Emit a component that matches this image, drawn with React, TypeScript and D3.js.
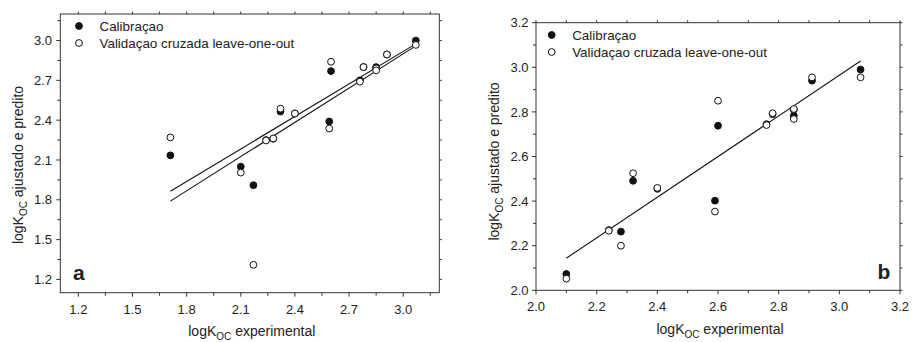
import React from "react";
import * as d3 from "d3";

// ---------- data ----------
const xA = [1.71, 2.10, 2.17, 2.24, 2.28, 2.32, 2.40, 2.59, 2.60, 2.76, 2.78, 2.85, 2.85, 2.91, 3.07];
const calA = [2.135, 2.05, 1.91, 2.25, 2.26, 2.465, 2.45, 2.39, 2.77, 2.70, 2.80, 2.80, 2.79, 2.895, 3.0];
const valA = [2.27, 2.005, 1.31, 2.247, 2.262, 2.487, 2.45, 2.337, 2.84, 2.69, 2.80, 2.79, 2.775, 2.895, 2.967];
// fitted lines (start x, end x, y at start, y at end)
const fitA1 = [1.71, 3.07, 1.865, 2.975];
const fitA2 = [1.71, 3.07, 1.79, 2.96];
const ticksA = [1.2, 1.5, 1.8, 2.1, 2.4, 2.7, 3.0];
const minorA = [1.35, 1.65, 1.95, 2.25, 2.55, 2.85, 3.15];

const xB = [2.10, 2.24, 2.28, 2.32, 2.40, 2.59, 2.60, 2.76, 2.78, 2.85, 2.85, 2.91, 3.07];
const calB = [2.073, 2.27, 2.263, 2.491, 2.455, 2.402, 2.738, 2.745, 2.79, 2.81, 2.783, 2.94, 2.99];
const valB = [2.052, 2.267, 2.2, 2.525, 2.459, 2.353, 2.85, 2.741, 2.794, 2.813, 2.768, 2.955, 2.955];
const fitB = [2.10, 3.07, 2.144, 3.028];
const ticksB = [2.0, 2.2, 2.4, 2.6, 2.8, 3.0, 3.2];
const minorB = [2.1, 2.3, 2.5, 2.7, 2.9, 3.1];

const legendLabels = ["Calibraçao", "Validaçao cruzada leave-one-out"];

const FONT = "'Liberation Sans', Arial, sans-serif";
const TXT = "#222";
const LINE = "#333";

type PanelProps = {
  x0: number; x1: number; y0: number; y1: number;
  domain: [number, number];
  ticks: number[]; minor: number[];
  xs: number[]; cal: number[]; val: number[];
  fits: number[][];
  tag: string; tagX: number; tagY: number;
  legX: number; legY: number;
  yTitleX: number; yTitleY: number; xTitleY: number;
  xLabelY: number; yLabelX: number;
};

function Panel(p: PanelProps) {
  const x = d3.scaleLinear().domain(p.domain).range([p.x0, p.x1]);
  const y = d3.scaleLinear().domain(p.domain).range([p.y1, p.y0]);
  const fmt = d3.format(".1f");
  const r = 3.4;
  const maj = 4, mn = 3, opp = 2.5;
  return (
    <g>
      {/* frame */}
      <rect x={p.x0} y={p.y0} width={p.x1 - p.x0} height={p.y1 - p.y0} fill="none" stroke={LINE} strokeWidth={1} />
      {/* bottom & top ticks */}
      {p.ticks.map((t) => (
        <g key={"xt" + t}>
          <line x1={x(t)} x2={x(t)} y1={p.y1} y2={p.y1 + maj} stroke={LINE} />
          <line x1={x(t)} x2={x(t)} y1={p.y0} y2={p.y0 - opp} stroke={LINE} />
          <text x={x(t)} y={p.xLabelY} textAnchor="middle" fontSize={13} fill={TXT} fontFamily={FONT}>{fmt(t)}</text>
        </g>
      ))}
      {p.minor.map((t) => (
        <g key={"xm" + t}>
          <line x1={x(t)} x2={x(t)} y1={p.y1} y2={p.y1 + mn} stroke={LINE} />
          <line x1={x(t)} x2={x(t)} y1={p.y0} y2={p.y0 - opp} stroke={LINE} />
        </g>
      ))}
      {/* left & right ticks */}
      {p.ticks.map((t) => (
        <g key={"yt" + t}>
          <line x1={p.x0} x2={p.x0 - maj} y1={y(t)} y2={y(t)} stroke={LINE} />
          <line x1={p.x1} x2={p.x1 + opp} y1={y(t)} y2={y(t)} stroke={LINE} />
          <text x={p.yLabelX} y={y(t) + 4.6} textAnchor="end" fontSize={13} fill={TXT} fontFamily={FONT}>{fmt(t)}</text>
        </g>
      ))}
      {p.minor.map((t) => (
        <g key={"ym" + t}>
          <line x1={p.x0} x2={p.x0 - mn} y1={y(t)} y2={y(t)} stroke={LINE} />
          <line x1={p.x1} x2={p.x1 + opp} y1={y(t)} y2={y(t)} stroke={LINE} />
        </g>
      ))}
      {/* fit lines */}
      {p.fits.map((f, i) => (
        <line key={"f" + i} x1={x(f[0])} x2={x(f[1])} y1={y(f[2])} y2={y(f[3])} stroke="#111" strokeWidth={1.1} />
      ))}
      {/* points */}
      {p.xs.map((v, i) => (
        <circle key={"c" + i} cx={x(v)} cy={y(p.cal[i])} r={r} fill="#111" stroke="#111" strokeWidth={1} />
      ))}
      {p.xs.map((v, i) => (
        <circle key={"o" + i} cx={x(v)} cy={y(p.val[i])} r={r} fill="#fff" stroke="#111" strokeWidth={1} />
      ))}
      {/* legend */}
      <circle cx={p.legX} cy={p.legY} r={r} fill="#111" stroke="#111" />
      <text x={p.legX + 20.5} y={p.legY + 4.8} fontSize={13.4} fill={TXT} fontFamily={FONT}>{legendLabels[0]}</text>
      <circle cx={p.legX} cy={p.legY + 17} r={r} fill="#fff" stroke="#111" />
      <text x={p.legX + 20.5} y={p.legY + 17 + 4.8} fontSize={13.4} fill={TXT} fontFamily={FONT}>{legendLabels[1]}</text>
      {/* panel tag */}
      <text x={p.tagX} y={p.tagY} fontSize={21} fontWeight="bold" fill={TXT} fontFamily={FONT}>{p.tag}</text>
      {/* x title */}
      <text x={(p.x0 + p.x1) / 2 + 2} y={p.xTitleY} textAnchor="middle" fontSize={14} fill={TXT} fontFamily={FONT}>
        logK<tspan fontSize={10} dy={4}>OC</tspan><tspan dy={-4}> experimental</tspan>
      </text>
      {/* y title */}
      <text transform={`translate(${p.yTitleX},${p.yTitleY}) rotate(-90)`} textAnchor="middle" fontSize={14} fill={TXT} fontFamily={FONT}>
        logK<tspan fontSize={10} dy={4}>OC</tspan><tspan dy={-4}> ajustado e predito</tspan>
      </text>
    </g>
  );
}

export default function App() {
  return (
    <svg width={913} height={342} style={{ position: "absolute", left: 0, top: 0, background: "#fff" }}>
      <rect x={0} y={0} width={913} height={342} fill="#fff" />
      <Panel
        x0={60.3} x1={439.3} y0={14} y1={292.7}
        domain={[1.1, 3.2]} ticks={ticksA} minor={minorA}
        xs={xA} cal={calA} val={valA} fits={[fitA1, fitA2]}
        tag="a" tagX={73} tagY={279.5}
        legX={79} legY={26}
        yTitleX={23} yTitleY={165} xTitleY={335.5}
        xLabelY={313.5} yLabelX={52}
      />
      <Panel
        x0={536} x1={900} y0={22.7} y1={290.3}
        domain={[2.0, 3.2]} ticks={ticksB} minor={minorB}
        xs={xB} cal={calB} val={valB} fits={[fitB]}
        tag="b" tagX={877.5} tagY={278.5}
        legX={551.7} legY={35}
        yTitleX={499} yTitleY={161.5} xTitleY={333.5}
        xLabelY={311} yLabelX={528.5}
      />
    </svg>
  );
}
